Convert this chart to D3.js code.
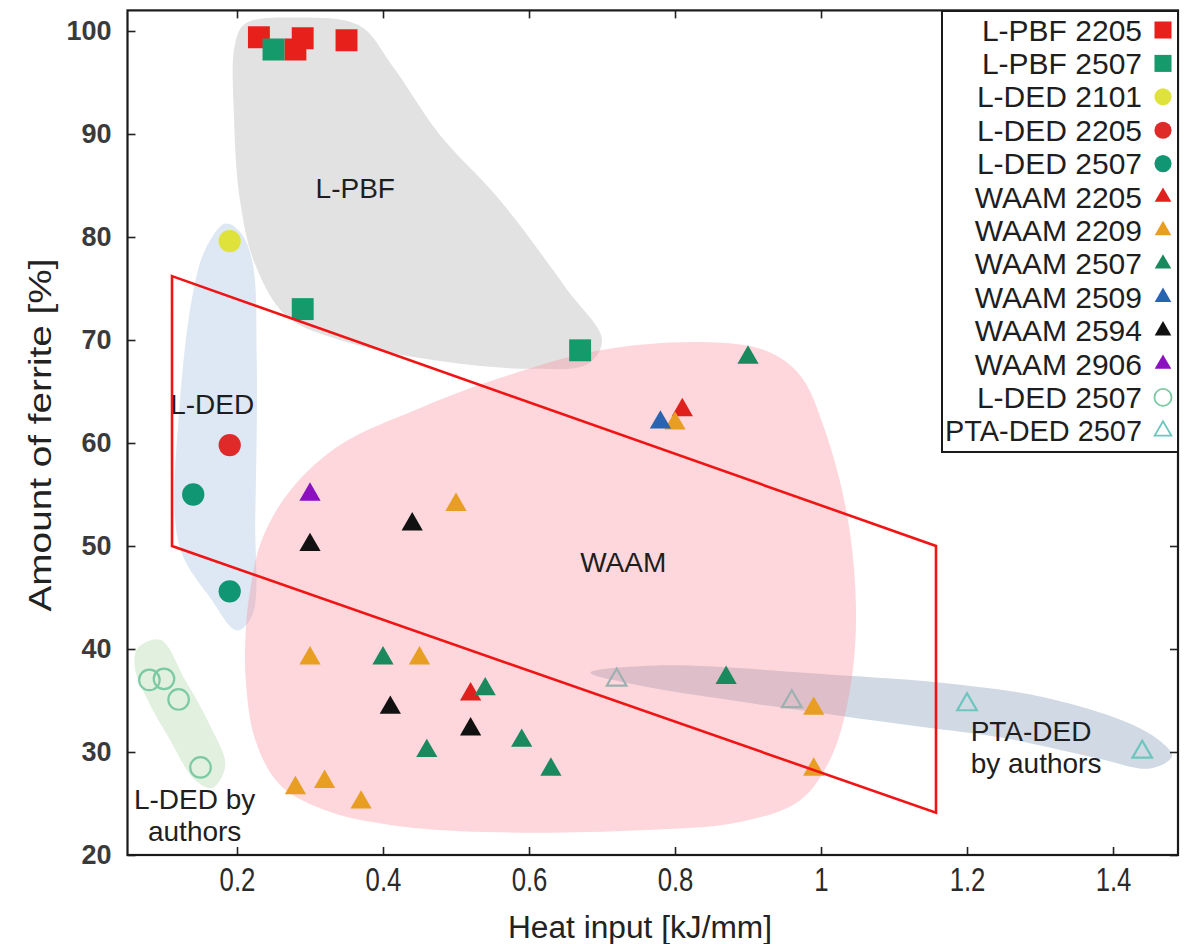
<!DOCTYPE html>
<html>
<head>
<meta charset="utf-8">
<script src="https://cdn.jsdelivr.net/npm/d3@7"></script>
<style>
  html, body { margin: 0; padding: 0; background: #fff; }
  svg { display: block; font-family: "Liberation Sans", Arial, sans-serif; }
</style>
</head>
<body>
<svg id="chart" width="1186" height="944"></svg>
<script>
// Ferrite content vs heat input, each point is [heat input (kJ/mm), ferrite (%)]
const lpbf2205 = [[0.23, 99.4], [0.29, 99.3], [0.28, 98.2], [0.35, 99.1]];
const lpbf2507 = [[0.25, 98.2], [0.29, 73.0], [0.67, 69.0]];
const lded2101 = [[0.19, 79.6]];
const lded2205 = [[0.19, 59.8]];
const lded2507 = [[0.14, 55.0], [0.19, 45.6]];
const waam2205 = [[0.81, 63.2], [0.52, 35.6]];
const waam2209 = [[0.50, 54.0], [0.30, 39.1], [0.45, 39.1], [0.28, 26.5], [0.32, 27.1],
                  [0.37, 25.1], [0.80, 61.9], [0.99, 34.2], [0.99, 28.3]];
const waam2507 = [[0.90, 68.3], [0.40, 39.1], [0.54, 36.1], [0.46, 30.1], [0.59, 31.1],
                  [0.63, 28.3], [0.87, 37.2]];
const waam2509 = [[0.78, 62.0]];
const waam2594 = [[0.30, 50.1], [0.44, 52.1], [0.41, 34.3], [0.52, 32.2]];
const waam2906 = [[0.30, 55.0]];
const ldedAuthors2507 = [[0.08, 37.0], [0.10, 37.1], [0.12, 35.1], [0.15, 28.5]];
const ptaAuthors2507 = [[0.72, 37.0], [0.96, 34.9], [1.20, 34.6], [1.44, 30.0]];

const xTicks = [0.2, 0.4, 0.6, 0.8, 1, 1.2, 1.4];
const yTicks = [20, 30, 40, 50, 60, 70, 80, 90, 100];
const xTitle = "Heat input [kJ/mm]";
const yTitle = "Amount of ferrite [%]";

// Process envelopes (outline vertices in data units)
const regionLPBF = [[0.197, 98.6], [0.211, 100.7], [0.286, 101.3], [0.368, 100.5], [0.412, 96.7],
  [0.478, 89.9], [0.560, 83.6], [0.652, 74.9], [0.700, 70.0], [0.681, 67.7], [0.601, 67.2],
  [0.464, 68.1], [0.341, 70.0], [0.268, 72.3], [0.225, 77.3], [0.204, 83.6], [0.196, 91.4]];
const regionLDED = [[0.184, 81.3], [0.204, 80.5], [0.221, 77.6], [0.227, 68.1], [0.225, 52.8],
  [0.221, 43.3], [0.200, 41.8], [0.163, 45.0], [0.126, 49.0], [0.115, 52.8], [0.122, 64.2],
  [0.138, 73.9], [0.156, 78.7]];
const regionLDEDAuthors = [[0.064, 40.1], [0.095, 40.9], [0.129, 37.0], [0.163, 32.6], [0.184, 28.7],
  [0.166, 26.5], [0.142, 27.3], [0.108, 31.2], [0.078, 35.0], [0.060, 38.2]];
const regionPTA = [[0.684, 37.7], [0.775, 38.4], [1.037, 37.4], [1.168, 36.7], [1.300, 35.4],
  [1.404, 33.3], [1.458, 31.4], [1.481, 29.6], [1.451, 28.4], [1.378, 29.4], [1.247, 31.4],
  [1.142, 32.4], [1.037, 33.4], [0.879, 35.0], [0.748, 36.5]];
const regionWAAM = [[0.218, 45.7], [0.234, 50.6], [0.273, 55.4], [0.341, 59.8], [0.451, 63.4],
  [0.560, 66.3], [0.697, 69.0], [0.834, 69.8], [0.923, 69.0], [0.971, 66.6], [1.005, 61.3],
  [1.037, 52.5], [1.048, 42.8], [1.037, 35.0], [1.012, 29.2], [0.971, 25.3], [0.889, 23.2],
  [0.752, 22.4], [0.560, 22.2], [0.423, 22.8], [0.327, 24.2], [0.259, 26.8], [0.225, 31.2],
  [0.212, 37.0], [0.212, 41.8]];

// Highlighted window (parallelogram) in data units
const highlightBox = [[0.111, 76.2], [1.1575, 50.0], [1.1575, 24.1], [0.111, 50.0]];

const svg = d3.select("#chart");
const plot = { left: 127.5, right: 1178, top: 10.4, bottom: 855 };

const x = d3.scaleLinear().domain([0.05, 1.489]).range([plot.left, plot.right]);
const y = d3.scaleLinear().domain([20, 102]).range([plot.bottom, plot.top]);

svg.append("defs").append("clipPath").attr("id", "plotClip")
  .append("rect")
  .attr("x", plot.left).attr("y", plot.top)
  .attr("width", plot.right - plot.left).attr("height", plot.bottom - plot.top);

const blob = d3.line().x(d => x(d[0])).y(d => y(d[1])).curve(d3.curveCatmullRomClosed.alpha(0.5));

const layer = svg.append("g").attr("clip-path", "url(#plotClip)");

function drawRegion(pts, fill, opacity) {
  layer.append("path").attr("d", blob(pts)).attr("fill", fill).attr("fill-opacity", opacity);
}

const sym = {
  square: d3.symbolSquare,
  circle: d3.symbolCircle,
  triangle: d3.symbolTriangle
};
const plotSize = { square: 480, circle: 390, triangle: 195 };
const legendSize = { square: 290, circle: 230, triangle: 120 };

function drawSeries(data, shape, color, filled) {
  const gen = d3.symbol().type(sym[shape]).size(filled ? plotSize[shape] : plotSize[shape] * 0.85);
  layer.append("g").selectAll("path").data(data).join("path")
    .attr("transform", d => `translate(${x(d[0])},${y(d[1])})`)
    .attr("d", gen)
    .attr("fill", filled ? color : "none")
    .attr("stroke", filled ? "none" : color)
    .attr("stroke-width", filled ? 0 : 2.2);
}

// Envelopes underneath, PTA series sits beneath the translucent WAAM envelope
drawRegion(regionLPBF, "#e2e2e2", 1);
drawRegion(regionLDED, "#dde8f4", 1);
drawRegion(regionLDEDAuthors, "#e2f0e0", 1);
drawRegion(regionPTA, "#d0d9e4", 1);
drawSeries(ptaAuthors2507, "triangle", "#6cc6be", false);
drawRegion(regionWAAM, "rgb(249,137,149)", 0.34);

const series = [
  { name: "L-PBF 2205", data: lpbf2205, shape: "square", color: "#e8201c", filled: true },
  { name: "L-PBF 2507", data: lpbf2507, shape: "square", color: "#159a6c", filled: true },
  { name: "L-DED 2101", data: lded2101, shape: "circle", color: "#dfe23a", filled: true },
  { name: "L-DED 2205", data: lded2205, shape: "circle", color: "#e02a2a", filled: true },
  { name: "L-DED 2507", data: lded2507, shape: "circle", color: "#119673", filled: true },
  { name: "WAAM 2205", data: waam2205, shape: "triangle", color: "#e0201c", filled: true },
  { name: "WAAM 2209", data: waam2209, shape: "triangle", color: "#e89e22", filled: true },
  { name: "WAAM 2507", data: waam2507, shape: "triangle", color: "#1a8a5e", filled: true },
  { name: "WAAM 2509", data: waam2509, shape: "triangle", color: "#2a64b0", filled: true },
  { name: "WAAM 2594", data: waam2594, shape: "triangle", color: "#111111", filled: true },
  { name: "WAAM 2906", data: waam2906, shape: "triangle", color: "#8a10c0", filled: true },
  { name: "L-DED 2507", data: ldedAuthors2507, shape: "circle", color: "#7ccaa4", filled: false },
  { name: "PTA-DED 2507", data: ptaAuthors2507, shape: "triangle", color: "#6cc6be", filled: false }
];

series.forEach(s => {
  if (s.data === ptaAuthors2507) return; // already drawn below the WAAM envelope
  drawSeries(s.data, s.shape, s.color, s.filled);
});

// Region names
const regionLabels = [
  { text: "L-PBF", at: [0.362, 83.8], anchor: "middle" },
  { text: "L-DED", at: [0.166, 62.8], anchor: "middle" },
  { text: "WAAM", at: [0.729, 47.5], anchor: "middle" },
  { text: "L-DED by", at: [0.142, 24.5], anchor: "middle" },
  { text: "authors", at: [0.142, 21.4], anchor: "middle" },
  { text: "PTA-DED", at: [1.205, 31.1], anchor: "start" },
  { text: "by authors", at: [1.205, 28.0], anchor: "start" }
];
svg.append("g").selectAll("text").data(regionLabels).join("text")
  .attr("x", d => x(d.at[0])).attr("y", d => y(d.at[1]))
  .attr("text-anchor", d => d.anchor)
  .attr("font-size", 28).attr("fill", "#1e1e1e")
  .text(d => d.text);

// Highlight window
svg.append("path")
  .attr("d", d3.line().x(d => x(d[0])).y(d => y(d[1]))(highlightBox) + "Z")
  .attr("fill", "none").attr("stroke", "#f01414").attr("stroke-width", 2.6)
  .attr("stroke-linejoin", "miter");

// Axes with inward ticks on all four sides
function styleAxis(g) {
  g.select(".domain").remove();
  g.selectAll(".tick line").attr("stroke", "#222").attr("stroke-width", 1.6);
}
const fmt = d3.format("~g");

const gx = svg.append("g").attr("transform", `translate(0,${plot.bottom})`)
  .call(d3.axisBottom(x).tickValues(xTicks).tickSize(-8).tickPadding(13).tickFormat(fmt));
styleAxis(gx);
gx.selectAll("text").attr("font-size", 33).attr("fill", "#2a2a2a")
  .attr("font-family", '"Liberation Sans", Arial, sans-serif')
  .attr("transform", "scale(0.78,1)");

const gxTop = svg.append("g").attr("transform", `translate(0,${plot.top})`)
  .call(d3.axisTop(x).tickValues(xTicks).tickSize(-8).tickFormat(""));
styleAxis(gxTop);

const gy = svg.append("g").attr("transform", `translate(${plot.left},0)`)
  .call(d3.axisLeft(y).tickValues(yTicks).tickSize(-8).tickPadding(16).tickFormat(fmt));
styleAxis(gy);
gy.selectAll("text").attr("font-size", 27).attr("font-weight", "bold").attr("fill", "#3a3a3a")
  .attr("font-family", '"Liberation Sans", Arial, sans-serif');

const gyRight = svg.append("g").attr("transform", `translate(${plot.right},0)`)
  .call(d3.axisRight(y).tickValues(yTicks).tickSize(-8).tickFormat(""));
styleAxis(gyRight);

// Plot frame
svg.append("rect")
  .attr("x", plot.left).attr("y", plot.top)
  .attr("width", plot.right - plot.left).attr("height", plot.bottom - plot.top)
  .attr("fill", "none").attr("stroke", "#1a1a1a").attr("stroke-width", 2.2);

// Axis titles
svg.append("text")
  .attr("x", 640).attr("y", 938)
  .attr("text-anchor", "middle").attr("font-size", 31).attr("fill", "#222")
  .attr("textLength", 264).attr("lengthAdjust", "spacingAndGlyphs")
  .text(xTitle);

svg.append("text")
  .attr("transform", "translate(51,435) rotate(-90)")
  .attr("text-anchor", "middle").attr("font-size", 31).attr("fill", "#222")
  .attr("textLength", 353).attr("lengthAdjust", "spacingAndGlyphs")
  .text(yTitle);

// Legend
const legend = { left: 942, right: plot.right, top: 11, bottom: 452, textEnd: 1142, markX: 1163, first: 30, step: 33.4 };
const lg = svg.append("g");
lg.append("rect")
  .attr("x", legend.left).attr("y", legend.top)
  .attr("width", legend.right - legend.left).attr("height", legend.bottom - legend.top)
  .attr("fill", "#fff").attr("stroke", "#1a1a1a").attr("stroke-width", 2);

series.forEach((s, i) => {
  const cy = legend.first + i * legend.step;
  const t = lg.append("text")
    .attr("x", legend.textEnd).attr("y", cy).attr("dy", "0.35em")
    .attr("text-anchor", "end").attr("font-size", 30).attr("fill", "#1e1e1e")
    .text(s.name);
  const len = t.node().getComputedTextLength();
  const room = legend.textEnd - legend.left - 3;
  if (len > room) {
    t.attr("textLength", room).attr("lengthAdjust", "spacingAndGlyphs");
  }
  const gen = d3.symbol().type(sym[s.shape]).size(legendSize[s.shape]);
  lg.append("path")
    .attr("transform", `translate(${legend.markX},${cy})`)
    .attr("d", gen)
    .attr("fill", s.filled ? s.color : "none")
    .attr("stroke", s.filled ? "none" : s.color)
    .attr("stroke-width", s.filled ? 0 : 1.8);
});
</script>
</body>
</html>
